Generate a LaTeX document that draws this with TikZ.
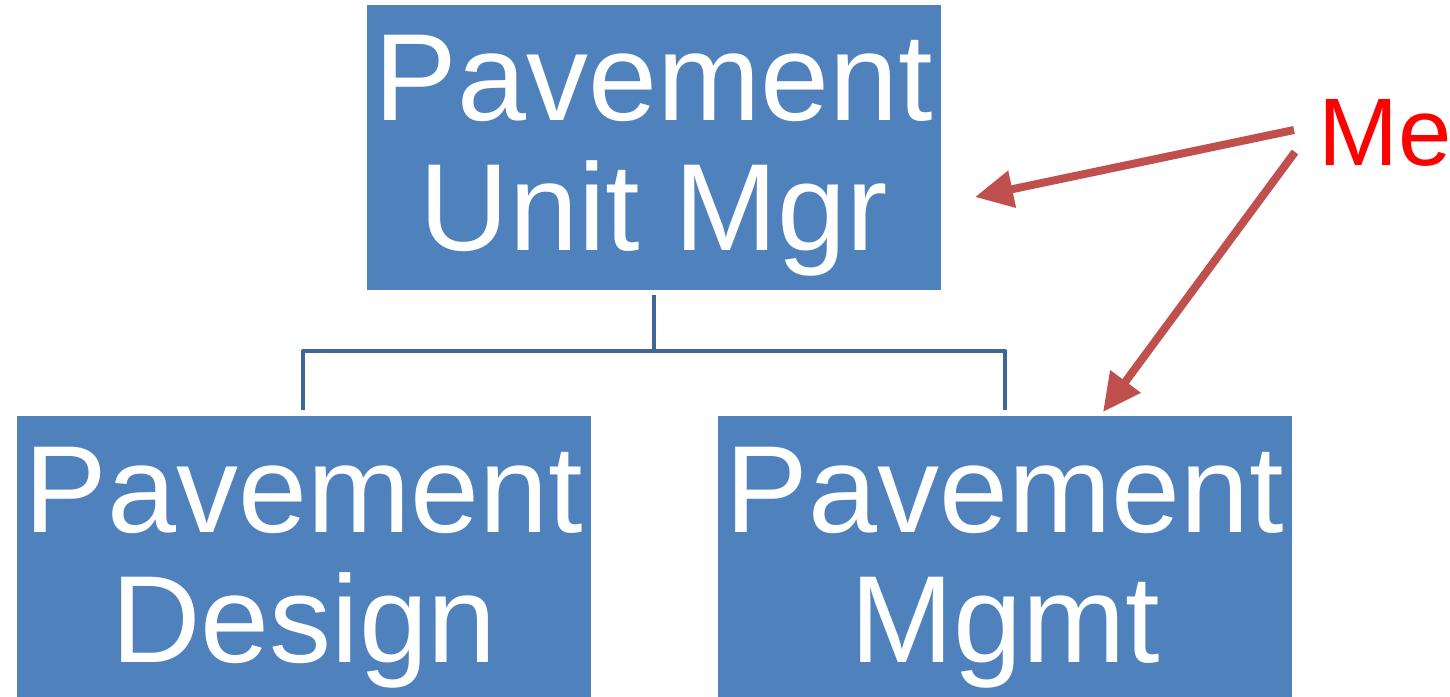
\documentclass[tikz,border=0pt]{standalone}
\usepackage{fontspec}
\setmainfont{Liberation Sans}
\usetikzlibrary{arrows.meta,shadows}
\definecolor{boxblue}{RGB}{79,129,189}
\definecolor{lineblue}{RGB}{62,102,150}
\definecolor{arrowred}{RGB}{192,80,77}
\begin{document}
\begin{tikzpicture}[x=1bp,y=-1bp,
  box/.style={draw=none,fill=boxblue,minimum width=#1,minimum height=284bp,inner sep=0pt,outer sep=0pt},
  lbl/.style={anchor=base,text=white,inner sep=0pt,font=\fontsize{124bp}{128bp}\selectfont},
  conn/.style={draw=lineblue,line width=4bp,line join=round},
  pointer/.style={draw=arrowred,line width=8bp,-{Triangle[length=38bp,width=36bp]},
    drop shadow={shadow xshift=1.5bp,shadow yshift=-2bp,opacity=0.25,fill=black}},
  metext/.style={anchor=base west,text=red,inner sep=0pt,font=\fontsize{96bp}{100bp}\selectfont}]
\useasboundingbox (0,0) rectangle (1450,697);
% boxes
\node[box=574bp] (top) at (654,147.5) {};
\node[box=574bp] (left) at (304,558) {};
\node[box=574bp] (right) at (1005,558) {};
% texts
\node[lbl] (topA) at (654,121) {Pavement};
\node[lbl] (topB) at (654,250) {Unit Mgr};
\node[lbl] (leftA) at (304,532) {Pavement};
\node[lbl] (leftB) at (304,662) {Design};
\node[lbl] (rightA) at (1005,532) {Pavement};
\node[lbl] (rightB) at (1005,662) {Mgmt};
% connectors
\coordinate (c0) at (654,295);
\coordinate (cm) at (654,351);
\coordinate (cl) at (303,410);
\coordinate (cr) at (1005,410);
\draw[conn] (c0) -- (cm);
\draw[conn] (cl) |- (cm) -| (cr);
% Me
\node[metext] (me) at (1318,165) {Me};
\coordinate (s1) at (1294,130);
\coordinate (e1) at (975,197);
\coordinate (s2) at (1295,152);
\coordinate (e2) at (1103,412);
\draw[pointer] (s1) -- (e1);
\draw[pointer] (s2) -- (e2);
\end{tikzpicture}
\end{document}
